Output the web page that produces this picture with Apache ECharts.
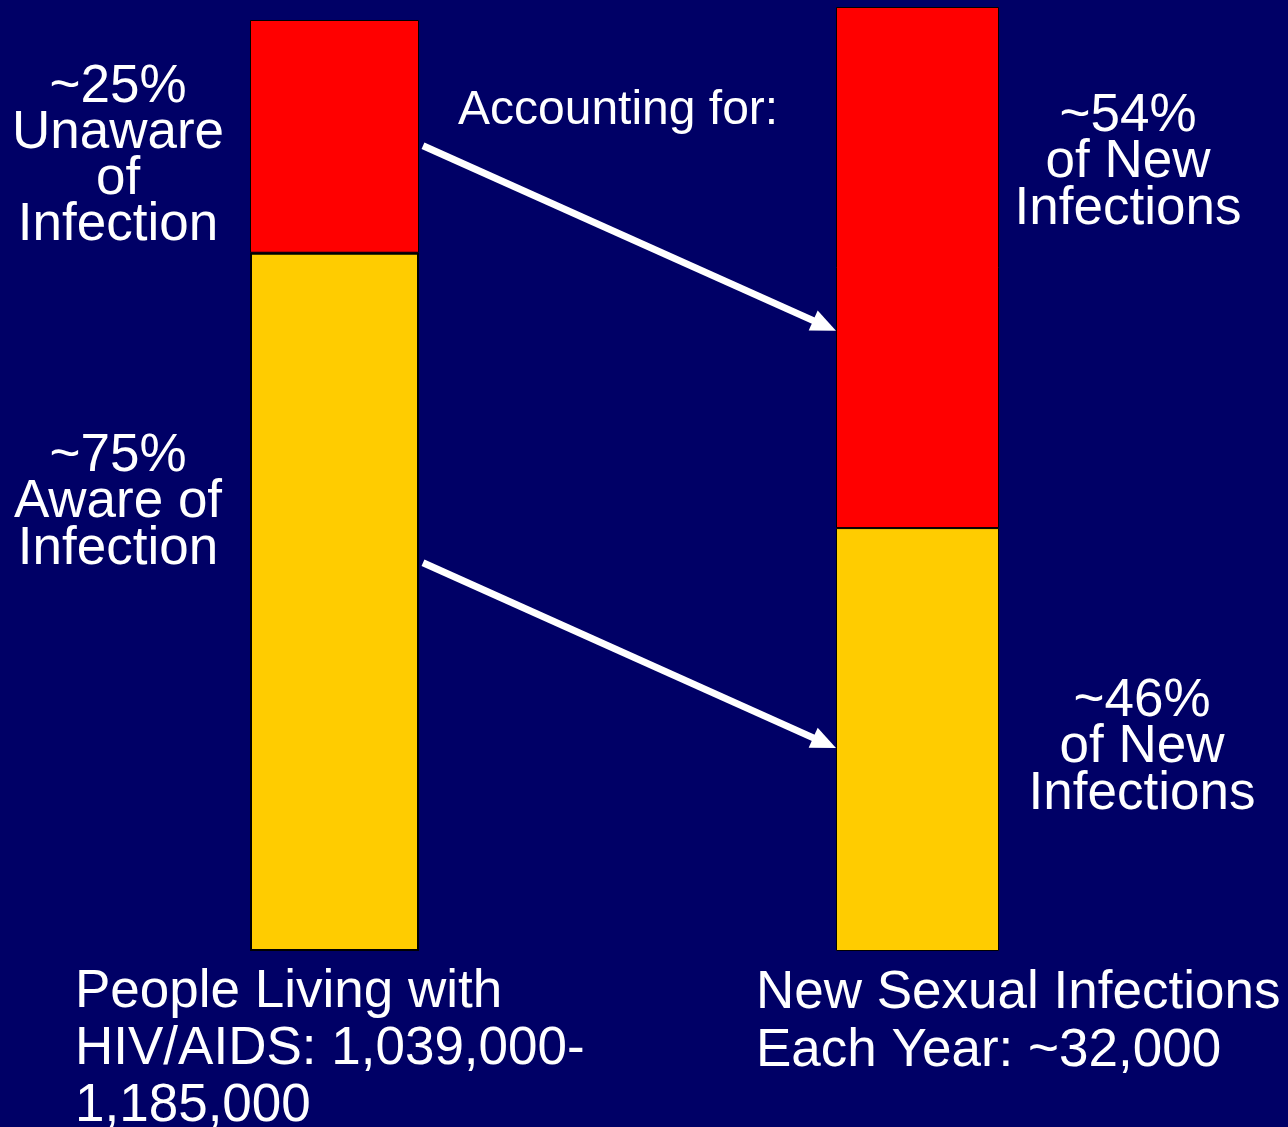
<!DOCTYPE html>
<html><head><meta charset="utf-8">
<script src="https://cdn.jsdelivr.net/npm/echarts@6/dist/echarts.min.js"></script>
<style>html,body{margin:0;padding:0;background:#000066;} #c{width:1288px;height:1127px;}</style>
</head><body><div id="c"></div><script>
// ---- data ----
const categories = ['People Living with HIV/AIDS', 'New Sexual Infections'];
const unawareShare = [25, 55.2];   // red (unaware) segment, % of bar
const awareShare = [75, 44.8];     // yellow (aware) segment, % of bar
const unawareLabels = ['~25%\nUnaware\nof\nInfection', '~54%\nof New\nInfections'];
const awareLabels = ['~75%\nAware of\nInfection', '~46%\nof New\nInfections'];
const bottomCaptions = ['People Living with\nHIV/AIDS: 1,039,000-\n1,185,000', 'New Sexual Infections\nEach Year: ~32,000'];
const headerText = 'Accounting for:';
const arrowFrom = [86.5, 41.7];  // height on left bar (%)
const arrowTo = [65.7, 21.5];    // height on right bar (%)

const FONT = "'Liberation Sans', Arial, sans-serif";
const chart = echarts.init(document.getElementById('c'));

function barSeries(idx, val, color, bw) {
  return {
    type: 'bar', xAxisIndex: idx, yAxisIndex: idx, stack: 's' + idx, barWidth: '100%',
    data: [val], itemStyle: { color: color, borderColor: '#000', borderWidth: bw },
    silent: true
  };
}

const txt = (x, y, text, align, va, lh, size) => ({
  type: 'text', x: x, y: y, silent: true,
  style: { text: text, fill: '#fff', font: size + 'px ' + FONT, align: align, verticalAlign: va, lineHeight: lh }
});

chart.setOption({
  backgroundColor: '#000066',
  animation: false,
  grid: [
    { left: 250, width: 169, top: 20, bottom: 176 },
    { left: 836, width: 163, top: 7, bottom: 176 }
  ],
  xAxis: [
    { type: 'category', gridIndex: 0, data: [categories[0]], show: false },
    { type: 'category', gridIndex: 1, data: [categories[1]], show: false }
  ],
  yAxis: [
    { type: 'value', gridIndex: 0, min: 0, max: 100, show: false },
    { type: 'value', gridIndex: 1, min: 0, max: 100, show: false }
  ],
  series: [
    barSeries(0, awareShare[0], '#FFCC00', 2),
    barSeries(0, unawareShare[0], '#FF0000', 1),
    barSeries(1, awareShare[1], '#FFCC00', 1),
    barSeries(1, unawareShare[1], '#FF0000', 1)
  ]
});

// annotations
const graphics = [
  txt(118, 64, unawareLabels[0], 'center', 'top', 46, 53),
  txt(118, 433, awareLabels[0], 'center', 'top', 46.5, 53),
  txt(1128, 93, unawareLabels[1], 'center', 'top', 46.5, 53),
  txt(1142, 678, awareLabels[1], 'center', 'top', 46.5, 53),
  txt(458, 111, headerText, 'left', 'middle', 48, 48),
  txt(75, 964, bottomCaptions[0], 'left', 'top', 57, 53),
  txt(756, 965, bottomCaptions[1], 'left', 'top', 57.5, 53)
];

for (let i = 0; i < arrowFrom.length; i++) {
  const x0 = chart.convertToPixel({ xAxisIndex: 0 }, categories[0]) + 169 / 2 + 4;
  const y0 = chart.convertToPixel({ yAxisIndex: 0 }, arrowFrom[i]);
  const x1 = chart.convertToPixel({ xAxisIndex: 1 }, categories[1]) - 163 / 2;
  const y1 = chart.convertToPixel({ yAxisIndex: 1 }, arrowTo[i]);
  const dx = x1 - x0, dy = y1 - y0, L = Math.hypot(dx, dy);
  const ux = dx / L, uy = dy / L, px = -uy, py = ux;
  const hl = 25, hw = 11;
  const bx = x1 - ux * hl, by = y1 - uy * hl;
  graphics.push({
    type: 'line', silent: true,
    shape: { x1: x0, y1: y0, x2: bx + ux * 2, y2: by + uy * 2 },
    style: { stroke: '#fff', lineWidth: 7 }
  });
  graphics.push({
    type: 'polygon', silent: true,
    shape: { points: [[x1, y1], [bx + px * hw, by + py * hw], [bx - px * hw, by - py * hw]] },
    style: { fill: '#fff' }
  });
}
chart.setOption({ graphic: graphics });
</script></body></html>
